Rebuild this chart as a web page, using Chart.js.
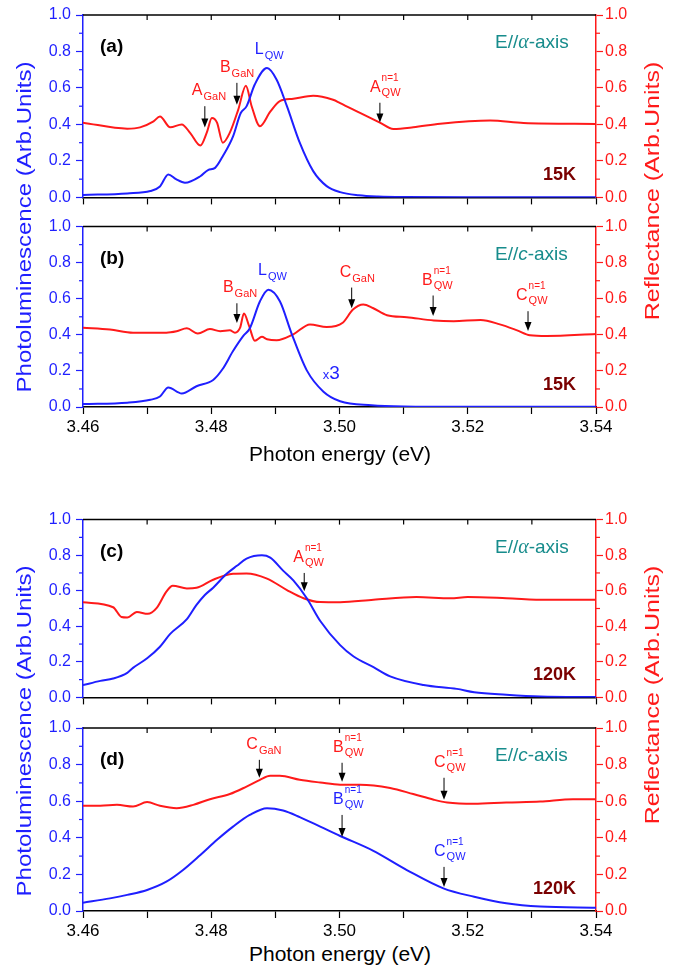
<!DOCTYPE html>
<html>
<head>
<meta charset="utf-8">
<script src="https://cdn.jsdelivr.net/npm/chart.js@4"></script>
<style>
  body { margin: 0; background: #fff; width: 679px; height: 971px; position: relative; overflow: hidden;
         font-family: "Liberation Sans", Arial, sans-serif; }
  canvas { position: absolute; left: 0; }
  .t { position: absolute; white-space: nowrap; transform-origin: center; }
  .yl { font-size: 20px; transform: translate(-50%, -50%) rotate(-90deg) scaleX(1.2); }
  .yr { font-size: 20px; transform: translate(-50%, -50%) rotate(-90deg) scaleX(1.25); }
  .xl { font-size: 21px; color: #000; transform: translate(-50%, -50%); }
</style>
</head>
<body>
<canvas id="pa" width="679" height="212" style="top:0"></canvas>
<canvas id="pb" width="679" height="232" style="top:212px"></canvas>
<canvas id="pc" width="679" height="207" style="top:505px"></canvas>
<canvas id="pd" width="679" height="230" style="top:712px"></canvas>

<div class="t yl" style="left:24px;top:227px;color:#1f1fff">Photoluminescence (Arb.Units)</div>
<div class="t yr" style="left:652px;top:191px;color:#ff1a1a">Reflectance (Arb.Units)</div>
<div class="t xl" style="left:340px;top:454px">Photon energy (eV)</div>
<div class="t yl" style="left:24px;top:731px;color:#1f1fff">Photoluminescence (Arb.Units)</div>
<div class="t yr" style="left:652px;top:695px;color:#ff1a1a">Reflectance (Arb.Units)</div>
<div class="t xl" style="left:340px;top:954px">Photon energy (eV)</div>

<script>
// tick positions and labels
const xTickValues = [3.46, 3.47, 3.48, 3.49, 3.50, 3.51, 3.52, 3.53, 3.54];
const xTickLabels = ['3.46', '3.48', '3.50', '3.52', '3.54'];
const yTickValues = [0, 0.2, 0.4, 0.6, 0.8, 1.0];
const yTickLabels = ['0.0', '0.2', '0.4', '0.6', '0.8', '1.0'];
const yMinorValues = [0.1, 0.3, 0.5, 0.7, 0.9];

// (a) 15K, E//a
const plE_a = [3.460, 3.4669, 3.4705, 3.472, 3.4733, 3.4745, 3.4759, 3.4783, 3.4795, 3.4806, 3.4818, 3.4834,
  3.4846, 3.4855, 3.4868, 3.4887, 3.4902, 3.4918, 3.4938, 3.4959, 3.498, 3.5001, 3.503, 3.506, 3.51, 3.52, 3.54];
const pl_a = [0.013, 0.022, 0.035, 0.06, 0.126, 0.10, 0.08, 0.116, 0.15, 0.162, 0.226, 0.335,
  0.463, 0.499, 0.62, 0.709, 0.645, 0.50, 0.30, 0.144, 0.062, 0.029, 0.012, 0.005, 0.002, 0.001, 0.001];
const rE_a = [3.460, 3.4669, 3.4689, 3.471, 3.472, 3.4736, 3.4754, 3.4767, 3.4783, 3.4793, 3.4801, 3.4809,
  3.4818, 3.4829, 3.4842, 3.4854, 3.4863, 3.4876, 3.4892, 3.4907, 3.4928, 3.4959, 3.499, 3.5001, 3.5032,
  3.5063, 3.5084, 3.5115, 3.5157, 3.5235, 3.5287, 3.54];
const r_a = [0.41, 0.377, 0.384, 0.417, 0.444, 0.384, 0.40, 0.354, 0.284, 0.355, 0.435, 0.41,
  0.30, 0.355, 0.48, 0.612, 0.50, 0.39, 0.47, 0.528, 0.541, 0.557, 0.535, 0.517, 0.463,
  0.41, 0.375, 0.384, 0.404, 0.422, 0.408, 0.403];

// (b) 15K, E//c
const plE_b = [3.460, 3.4669, 3.4705, 3.472, 3.4733, 3.4754, 3.4777, 3.4803, 3.4818, 3.4834, 3.485, 3.486,
  3.4876, 3.4889, 3.4907, 3.4925, 3.4949, 3.4975, 3.5001, 3.505, 3.51, 3.52, 3.54];
const pl_b = [0.016, 0.024, 0.04, 0.058, 0.108, 0.075, 0.115, 0.15, 0.212, 0.31, 0.394, 0.435,
  0.586, 0.65, 0.586, 0.41, 0.203, 0.085, 0.032, 0.01, 0.003, 0.001, 0.001];
const rE_b = [3.460, 3.4642, 3.4678, 3.473, 3.4746, 3.4762, 3.4779, 3.4798, 3.4814, 3.4829, 3.4837, 3.4845,
  3.4851, 3.4859, 3.4868, 3.4879, 3.4887, 3.4902, 3.4928, 3.4954, 3.498, 3.5005, 3.5021, 3.5037, 3.5052,
  3.5074, 3.5105, 3.5147, 3.5178, 3.522, 3.525, 3.5277, 3.5297, 3.5323, 3.54];
const r_b = [0.44, 0.43, 0.412, 0.412, 0.42, 0.436, 0.407, 0.432, 0.42, 0.425, 0.412, 0.44,
  0.518, 0.449, 0.367, 0.389, 0.376, 0.37, 0.403, 0.458, 0.443, 0.467, 0.54, 0.568, 0.549,
  0.509, 0.498, 0.48, 0.476, 0.482, 0.458, 0.425, 0.398, 0.394, 0.405];

// (c) 120K, E//a
const plE_c = [3.460, 3.4627, 3.4647, 3.4669, 3.4678, 3.470, 3.472, 3.4736, 3.4762, 3.4777, 3.479, 3.4803,
  3.4824, 3.484, 3.4855, 3.4879, 3.4892, 3.4912, 3.4928, 3.4949, 3.497, 3.5001, 3.5022, 3.5053, 3.5079,
  3.5131, 3.5183, 3.521, 3.526, 3.5313, 3.54];
const pl_c = [0.069, 0.093, 0.106, 0.138, 0.166, 0.22, 0.285, 0.357, 0.44, 0.52, 0.576, 0.617,
  0.695, 0.74, 0.78, 0.799, 0.786, 0.713, 0.658, 0.558, 0.43, 0.294, 0.23, 0.17, 0.118,
  0.07, 0.048, 0.029, 0.015, 0.005, 0.002];
const rE_c = [3.460, 3.4647, 3.466, 3.4669, 3.4684, 3.4701, 3.4715, 3.473, 3.474, 3.4762, 3.4777, 3.4803,
  3.4834, 3.4855, 3.4887, 3.4918, 3.4944, 3.497, 3.5001, 3.5053, 3.512, 3.5173, 3.52, 3.526, 3.5323, 3.54];
const r_c = [0.535, 0.507, 0.452, 0.449, 0.48, 0.47, 0.504, 0.595, 0.628, 0.613, 0.617, 0.662,
  0.695, 0.697, 0.668, 0.604, 0.558, 0.536, 0.535, 0.549, 0.564, 0.558, 0.564, 0.558, 0.549, 0.549];

// (d) 120K, E//c
const plE_d = [3.460, 3.4642, 3.4669, 3.470, 3.473, 3.4756, 3.4783, 3.4809, 3.4834, 3.486, 3.4887, 3.4912,
  3.4938, 3.497, 3.5001, 3.5052, 3.5105, 3.5162, 3.521, 3.526, 3.5313, 3.54];
const pl_d = [0.045, 0.069, 0.088, 0.115, 0.16, 0.224, 0.306, 0.389, 0.461, 0.525, 0.562, 0.549,
  0.513, 0.461, 0.41, 0.33, 0.224, 0.124, 0.078, 0.042, 0.024, 0.018];
const rE_d = [3.460, 3.4627, 3.4653, 3.4678, 3.470, 3.472, 3.4746, 3.4772, 3.4798, 3.4829, 3.4855, 3.4876,
  3.4892, 3.4907, 3.4938, 3.497, 3.5001, 3.5032, 3.5079, 3.5115, 3.5147, 3.5168, 3.521, 3.526, 3.5313,
  3.5364, 3.54];
const r_d = [0.575, 0.575, 0.58, 0.571, 0.595, 0.575, 0.562, 0.58, 0.611, 0.639, 0.68, 0.717,
  0.739, 0.739, 0.717, 0.702, 0.69, 0.69, 0.672, 0.639, 0.608, 0.593, 0.586, 0.593, 0.598,
  0.611, 0.611];

const BLUE = '#1f1fff';
const RED = '#ff1a1a';
const TEAL = '#178c8c';
const DARKRED = '#7a0000';
const FONT = '"Liberation Sans", Arial, sans-serif';

// arrows (x, tail value, tip value) and peak labels
const notes_a = [
  { x: 3.479, from: 0.50, to: 0.383, c: RED, m: 'A', sub: 'GaN', dx: -13 },
  { x: 3.484, from: 0.628, to: 0.508, c: RED, m: 'B', sub: 'GaN', dx: -17 },
  { x: 3.5063, from: 0.519, to: 0.41, c: RED, m: 'A', sub: 'QW', sup: 'n=1', dx: -10 }
];
const labels_a = [{ x: 3.4868, y: 0.787, c: BLUE, m: 'L', sub: 'QW' }];

const notes_b = [
  { x: 3.484, from: 0.575, to: 0.465, c: RED, m: 'B', sub: 'GaN', dx: -14 },
  { x: 3.5019, from: 0.662, to: 0.547, c: RED, m: 'C', sub: 'GaN', dx: -12 },
  { x: 3.5146, from: 0.618, to: 0.504, c: RED, m: 'B', sub: 'QW', sup: 'n=1', dx: -11 },
  { x: 3.5294, from: 0.531, to: 0.421, c: RED, m: 'C', sub: 'QW', sup: 'n=1', dx: -12 }
];
const labels_b = [
  { x: 3.4873, y: 0.733, c: BLUE, m: 'L', sub: 'QW' },
  { x: 3.4974, y: 0.153, c: BLUE, times: true }
];

const notes_c = [
  { x: 3.4945, from: 0.70, to: 0.597, c: RED, m: 'A', sub: 'QW', sup: 'n=1', dx: -11 }
];

const notes_d = [
  { x: 3.4875, from: 0.826, to: 0.728, c: RED, m: 'C', sub: 'GaN', dx: -13 },
  { x: 3.5004, from: 0.81, to: 0.706, c: RED, m: 'B', sub: 'QW', sup: 'n=1', dx: -9 },
  { x: 3.5004, from: 0.525, to: 0.405, c: BLUE, m: 'B', sub: 'QW', sup: 'n=1', dx: -9 },
  { x: 3.5163, from: 0.728, to: 0.608, c: RED, m: 'C', sub: 'QW', sup: 'n=1', dx: -10 },
  { x: 3.5163, from: 0.241, to: 0.131, c: BLUE, m: 'C', sub: 'QW', sup: 'n=1', dx: -10 }
];

function zip(xs, ys) {
  return xs.map((x, i) => ({ x, y: ys[i] }));
}

function drawLabel(ctx, px, base, n) {
  ctx.fillStyle = n.c;
  ctx.textAlign = 'left';
  ctx.textBaseline = 'alphabetic';
  if (n.times) {
    ctx.font = '13px ' + FONT;
    ctx.fillText('x', px, base);
    const w = ctx.measureText('x').width;
    ctx.font = '19px ' + FONT;
    ctx.fillText('3', px + w, base);
    return;
  }
  ctx.font = '16px ' + FONT;
  ctx.fillText(n.m, px, base);
  const w = ctx.measureText(n.m).width + 1;
  if (n.sup) {
    ctx.font = '10px ' + FONT;
    ctx.fillText(n.sup, px + w, base - 11);
    ctx.font = '11px ' + FONT;
    ctx.fillText(n.sub, px + w, base + 4);
  } else if (n.sub) {
    ctx.font = '11px ' + FONT;
    ctx.fillText(n.sub, px + w, base + 5);
  }
}

function drawArrow(ctx, px, y0, y1) {
  ctx.strokeStyle = '#000';
  ctx.fillStyle = '#000';
  ctx.lineWidth = 1;
  ctx.beginPath();
  ctx.moveTo(px, y0);
  ctx.lineTo(px, y1 - 7);
  ctx.stroke();
  ctx.beginPath();
  ctx.moveTo(px - 3.5, y1 - 9);
  ctx.lineTo(px + 3.5, y1 - 9);
  ctx.lineTo(px, y1);
  ctx.closePath();
  ctx.fill();
}

const framePlugin = {
  id: 'frame',
  afterDatasetsDraw(chart, args, o) {
    const { ctx, chartArea: a } = chart;
    const x = chart.scales.x;
    const y = chart.scales.y;
    ctx.save();

    // top frame with inward ticks
    ctx.strokeStyle = '#000';
    ctx.lineWidth = 1.5;
    ctx.beginPath();
    ctx.moveTo(a.left, a.top);
    ctx.lineTo(a.right, a.top);
    ctx.stroke();
    ctx.lineWidth = 1.2;
    xTickValues.slice(1, -1).forEach((v) => {
      const px = x.getPixelForValue(v);
      ctx.beginPath();
      ctx.moveTo(px, a.top);
      ctx.lineTo(px, a.top + 5);
      ctx.stroke();
    });

    // minor ticks on both y axes
    yMinorValues.forEach((v) => {
      const py = y.getPixelForValue(v);
      ctx.strokeStyle = BLUE;
      ctx.beginPath();
      ctx.moveTo(a.left - 4, py);
      ctx.lineTo(a.left, py);
      ctx.stroke();
      ctx.strokeStyle = RED;
      ctx.beginPath();
      ctx.moveTo(a.right, py);
      ctx.lineTo(a.right + 4, py);
      ctx.stroke();
    });

    (o.notes || []).forEach((n) => {
      const px = x.getPixelForValue(n.x);
      const y0 = y.getPixelForValue(n.from);
      const y1 = y.getPixelForValue(n.to);
      drawArrow(ctx, px, y0, y1);
      drawLabel(ctx, px + n.dx, y0 - 11, n);
    });
    (o.labels || []).forEach((n) => {
      drawLabel(ctx, x.getPixelForValue(n.x), y.getPixelForValue(n.y), n);
    });

    // panel tag
    ctx.fillStyle = '#000';
    ctx.textBaseline = 'middle';
    ctx.textAlign = 'left';
    ctx.font = 'bold 19px ' + FONT;
    ctx.fillText(o.tag, a.left + 17, a.top + 32);

    // polarisation
    ctx.fillStyle = TEAL;
    let cx = a.right - 101;
    const parts = o.pol === 'a'
      ? [['E//', '19px ' + FONT], ['\u03b1', 'italic 20px "Liberation Serif", serif'], ['-axis', '19px ' + FONT]]
      : [['E//', '19px ' + FONT], ['c', 'italic 19px ' + FONT], ['-axis', '19px ' + FONT]];
    parts.forEach(([t, f]) => {
      ctx.font = f;
      ctx.fillText(t, cx, a.top + 28);
      cx += ctx.measureText(t).width;
    });

    // temperature
    ctx.fillStyle = DARKRED;
    ctx.textAlign = 'right';
    ctx.font = 'bold 18px ' + FONT;
    ctx.fillText(o.temp, a.right - 20, a.bottom - 22);
    ctx.restore();
  }
};

function makePanel(id, p) {
  return new Chart(document.getElementById(id), {
    type: 'line',
    data: {
      datasets: [
        {
          data: zip(p.plE, p.pl), yAxisID: 'y', borderColor: BLUE, borderWidth: 2,
          pointRadius: 0, tension: 0.4, cubicInterpolationMode: 'monotone'
        },
        {
          data: zip(p.rE, p.r), yAxisID: 'y2', borderColor: RED, borderWidth: 2,
          pointRadius: 0, tension: 0.4, cubicInterpolationMode: 'monotone'
        }
      ]
    },
    options: {
      responsive: false,
      animation: false,
      events: [],
      layout: { padding: { top: p.padTop, left: 0, right: 0, bottom: 0 } },
      plugins: {
        legend: { display: false },
        tooltip: { enabled: false },
        frame: { notes: p.notes, labels: p.labels, tag: p.tag, pol: p.pol, temp: p.temp }
      },
      scales: {
        x: {
          type: 'linear', min: 3.46, max: 3.54,
          afterBuildTicks: (s) => { s.ticks = xTickValues.map((v) => ({ value: v })); },
          afterFit: (s) => { s.height = p.axisH; },
          ticks: {
            autoSkip: false, maxRotation: 0, color: '#000', padding: 3,
            font: { size: 17, family: FONT },
            callback: (v, i) => (p.showX && i % 2 === 0 ? xTickLabels[i / 2] : '')
          },
          grid: { drawOnChartArea: false, tickLength: 7, tickColor: '#000', tickWidth: 1.2 },
          border: { color: '#000', width: 1.5 }
        },
        y: {
          position: 'left', min: 0, max: 1,
          afterBuildTicks: (s) => { s.ticks = yTickValues.map((v) => ({ value: v })); },
          afterFit: (s) => { s.width = 83; },
          ticks: {
            color: BLUE, padding: 5, font: { size: 16, family: FONT },
            callback: (v, i) => yTickLabels[i]
          },
          grid: { drawOnChartArea: false, tickLength: 7, tickColor: BLUE, tickWidth: 1.2 },
          border: { color: BLUE, width: 1.5 }
        },
        y2: {
          position: 'right', min: 0, max: 1,
          afterBuildTicks: (s) => { s.ticks = yTickValues.map((v) => ({ value: v })); },
          afterFit: (s) => { s.width = 83; },
          ticks: {
            color: RED, padding: 2, font: { size: 16, family: FONT },
            callback: (v, i) => yTickLabels[i]
          },
          grid: { drawOnChartArea: false, tickLength: 7, tickColor: RED, tickWidth: 1.2 },
          border: { color: RED, width: 1.5 }
        }
      }
    },
    plugins: [framePlugin]
  });
}

makePanel('pa', { plE: plE_a, pl: pl_a, rE: rE_a, r: r_a, notes: notes_a, labels: labels_a,
  tag: '(a)', pol: 'a', temp: '15K', padTop: 15, axisH: 14, showX: false });
makePanel('pb', { plE: plE_b, pl: pl_b, rE: rE_b, r: r_b, notes: notes_b, labels: labels_b,
  tag: '(b)', pol: 'c', temp: '15K', padTop: 12, axisH: 37, showX: true });
makePanel('pc', { plE: plE_c, pl: pl_c, rE: rE_c, r: r_c, notes: notes_c, labels: [],
  tag: '(c)', pol: 'a', temp: '120K', padTop: 14, axisH: 10, showX: false });
makePanel('pd', { plE: plE_d, pl: pl_d, rE: rE_d, r: r_d, notes: notes_d, labels: [],
  tag: '(d)', pol: 'c', temp: '120K', padTop: 16, axisH: 31, showX: true });
</script>
</body>
</html>
